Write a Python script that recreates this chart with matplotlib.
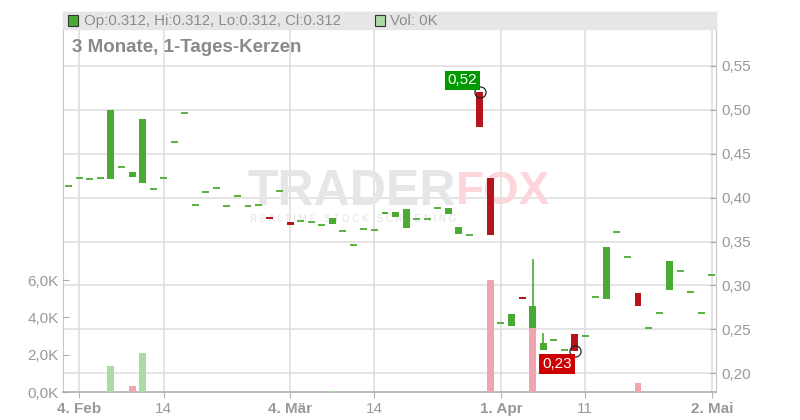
import matplotlib.pyplot as plt
from matplotlib.patches import Rectangle
import numpy as np
import pandas as pd

plt.rcParams['font.family'] = ['Liberation Sans', 'DejaVu Sans']

# trading days (XETRA calendar, holidays removed)
dates = pd.bdate_range('2025-02-03', '2025-05-02')
dates = dates[~dates.isin(pd.to_datetime(['2025-04-18', '2025-04-21', '2025-05-01']))]

opens = [0.413, 0.423, 0.421, 0.422, 0.421, 0.435, 0.424, 0.417, 0.410, 0.423,
         0.464, 0.496, 0.392, 0.407, 0.411, 0.391, 0.402, 0.391, 0.392, 0.378,
         0.408, 0.372, 0.373, 0.372, 0.369, 0.370, 0.362, 0.346, 0.364, 0.363,
         0.381, 0.378, 0.365, 0.376, 0.376, 0.388, 0.382, 0.359, 0.358, 0.520,
         0.422, 0.257, 0.254, 0.287, 0.252, 0.226, 0.238, 0.226, 0.245, 0.243,
         0.287, 0.285, 0.361, 0.332, 0.2915, 0.252, 0.269, 0.295, 0.316, 0.293,
         0.269, 0.312]
closes = [0.413, 0.423, 0.421, 0.422, 0.500, 0.435, 0.429, 0.490, 0.410, 0.423,
          0.464, 0.496, 0.392, 0.407, 0.411, 0.391, 0.402, 0.391, 0.392, 0.376,
          0.408, 0.369, 0.373, 0.372, 0.369, 0.377, 0.362, 0.346, 0.364, 0.363,
          0.384, 0.384, 0.387, 0.376, 0.376, 0.388, 0.388, 0.367, 0.358, 0.480,
          0.358, 0.257, 0.268, 0.285, 0.277, 0.2345, 0.238, 0.226, 0.2255, 0.243,
          0.287, 0.344, 0.361, 0.332, 0.277, 0.252, 0.269, 0.328, 0.316, 0.293,
          0.269, 0.312]
# upper wicks that stick out of the body
wick_highs = {44: 0.330, 45: 0.246}
volumes = {4: 1410, 6: 340, 7: 2110, 25: 50, 40: 6020, 44: 3450, 54: 500}

tick_dates = ['2025-02-04', '2025-02-14', '2025-03-04', '2025-03-14',
              '2025-04-01', '2025-04-11', '2025-05-02']
tick_labels = ['4. Feb', '14', '4. Mär', '14', '1. Apr', '11', '2. Mai']
tick_bold = [True, False, True, False, True, False, True]

price_ticks = [0.20, 0.25, 0.30, 0.35, 0.40, 0.45, 0.50, 0.55]
vol_ticks = [0, 2000, 4000, 6000]

GREEN = '#4aab33'
RED = '#b5161b'
VGREEN = '#a9dba3'
VRED = '#f0a5ae'
TXT = '#999999'

opens = np.array(opens)
closes = np.array(closes)
highs = np.maximum(opens, closes)
lows = np.minimum(opens, closes)
for k, v in wick_highs.items():
    highs[k] = v
x = np.arange(len(dates))
vol = np.array([volumes.get(i, 0) for i in x])

W, H = 800, 420
fig = plt.figure(figsize=(8, 4.2), dpi=100)
L, R, T, B = 63, 716, 12, 392
ax = fig.add_axes([L / W, 1 - B / H, (R - L) / W, (B - T) / H])
axv = ax.twinx()

ax.set_xlim(-0.55, len(x) - 0.6)
ax.set_ylim(0.1787, 0.6115)
axv.set_ylim(0, 20375)

# grid
ax.set_axisbelow(True)
ax.grid(True, color='#dcdcdc', lw=1.1)
ax.set_yticks(price_ticks)
tick_pos = [list(dates).index(pd.Timestamp(d)) for d in tick_dates]
ax.set_xticks(tick_pos)

# header band
fig.patches.append(Rectangle((L / W, 1 - 29 / H), (R - L) / W, 17 / H,
                             transform=fig.transFigure, color='#e6e6e6', zorder=0))
ax.patch.set_alpha(0)

# watermark (under the candles)
ax.text(456 / W, 1 - 192 / H, 'TRADER', ha='right', va='center', fontsize=36,
        fontweight='bold', color='#e6e6e6', zorder=1, transform=fig.transFigure)
ax.text(456 / W, 1 - 192 / H, 'FOX', ha='left', va='center', fontsize=33,
        fontweight='bold', color='#fcd6da', zorder=1, transform=fig.transFigure)
ax.text(250 / W, 1 - 219 / H, 'R E A L T I M E   S T O C K   S C R E E N I N G',
        ha='left', va='center', fontsize=7, color='#e2e2e2', zorder=1,
        transform=fig.transFigure)

# candles
cw = 0.66
for i in x:
    o, c = opens[i], closes[i]
    col = GREEN if c >= o else RED
    if highs[i] > max(o, c):
        ax.vlines(i, max(o, c), highs[i], color=col, lw=1.2, zorder=3)
    if abs(c - o) < 0.0015:
        ax.hlines(c, i - cw / 2, i + cw / 2, color=col, lw=1.3, zorder=3)
    else:
        ax.bar(i, abs(c - o), bottom=min(o, c), width=cw, color=col, zorder=3)

# volume
prev = np.concatenate([[closes[0]], closes[:-1]])
vcols = [VGREEN if closes[i] >= prev[i] else VRED for i in x]
axv.bar(x, vol, width=cw, color=vcols, zorder=2)

# high / low markers
ih = int(np.argmax(highs))
il = int(np.argmin(lows))
for idx, val, fc, dy, va in [(ih, highs[ih], '#009900', 5, 'bottom'),
                              (il, lows[il], '#cc0000', -6, 'top')]:
    ax.plot(idx, val, 'o', ms=8, mfc='none', mec='#222222', mew=0.9, zorder=5)
    ax.annotate(f'{val:.2f}'.replace('.', ','), (idx, val), xytext=(-3, dy),
                textcoords='offset pixels', ha='right', va=va, color='white',
                fontsize=11, zorder=6,
                bbox=dict(boxstyle='square,pad=0.18', fc=fc, ec='none'))

# axes styling
for s in ax.spines.values():
    s.set_color('#c8c8c8')
ax.spines['bottom'].set_color('#b4b4b4')
ax.spines['bottom'].set_linewidth(1.3)
for s in axv.spines.values():
    s.set_visible(False)

ax.yaxis.tick_right()
ax.set_yticklabels([f'{p:.2f}'.replace('.', ',') for p in price_ticks])
ax.tick_params(axis='y', direction='in', length=4, pad=4, colors='#aaaaaa',
               labelcolor=TXT, labelsize=11)
ax.tick_params(axis='x', direction='out', length=4, pad=3, colors='#b4b4b4',
               labelcolor=TXT, labelsize=11)
ax.set_xticklabels(tick_labels)
for lab, b in zip(ax.get_xticklabels(), tick_bold):
    lab.set_fontweight('bold' if b else 'normal')

axv.yaxis.tick_left()
axv.set_yticks(vol_ticks)
axv.set_yticklabels([f'{v / 1000:.1f}K'.replace('.', ',') for v in vol_ticks])
axv.tick_params(axis='y', direction='in', length=4, pad=3, colors='#aaaaaa',
                labelcolor=TXT, labelsize=11)

# header
fig.patches.append(Rectangle((68 / W, 1 - 26 / H), 10 / W, 11 / H, transform=fig.transFigure,
                             fc=GREEN, ec='#333333', lw=0.8))
fig.text(84 / W, 1 - 21 / H, 'Op:0.312, Hi:0.312, Lo:0.312, Cl:0.312',
         ha='left', va='center', fontsize=10.8, color='#8c8c8c')
fig.patches.append(Rectangle((375 / W, 1 - 26 / H), 10 / W, 11 / H, transform=fig.transFigure,
                             fc=VGREEN, ec='#333333', lw=0.8))
fig.text(390 / W, 1 - 21 / H, 'Vol: 0K', ha='left', va='center', fontsize=10.8,
         color='#8c8c8c')
fig.text(72 / W, 1 - 48 / H, '3 Monate, 1-Tages-Kerzen', ha='left', va='center',
         fontsize=13.5, fontweight='bold', color='#8a8a8a')

fig.savefig('out.png', dpi=100)
